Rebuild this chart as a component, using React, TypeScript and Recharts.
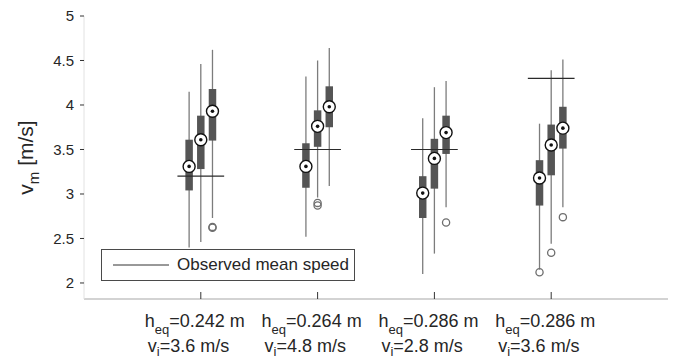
import React from "react";
import { ComposedChart, XAxis, YAxis, Scatter, ReferenceLine, Legend } from "recharts";

// categories (x = 1..4)
const groupPositions = [1, 2, 3, 4];
const heqValues = ["0.242", "0.264", "0.286", "0.286"];
const viValues = ["3.6", "4.8", "2.8", "3.6"];
const observedMean = [3.2, 3.5, 3.5, 4.3];

// three boxes per group
const whiskerLow = [
  [2.4, 2.46, 2.73],
  [2.52, 2.96, 3.09],
  [2.1, 2.33, 2.85],
  [2.15, 2.44, 2.85],
];
const quartile1 = [
  [3.04, 3.28, 3.6],
  [3.07, 3.53, 3.75],
  [2.73, 3.06, 3.45],
  [2.87, 3.21, 3.51],
];
const medians = [
  [3.31, 3.61, 3.93],
  [3.31, 3.76, 3.98],
  [3.01, 3.4, 3.69],
  [3.18, 3.55, 3.74],
];
const quartile3 = [
  [3.61, 3.88, 4.18],
  [3.57, 3.94, 4.21],
  [3.2, 3.62, 3.88],
  [3.38, 3.78, 3.98],
];
const whiskerHigh = [
  [4.15, 4.46, 4.62],
  [4.32, 4.5, 4.64],
  [3.85, 4.2, 4.27],
  [3.79, 4.39, 4.51],
];
const outliers = [
  [[], [], [2.62, 2.63]],
  [[], [2.9, 2.87], []],
  [[], [], [2.68]],
  [[2.12], [2.34], [2.74]],
];

const yTicks = [2, 2.5, 3, 3.5, 4, 4.5, 5];

const boxOffset = [-0.1, 0, 0.1];
const meanHalf = 0.2;
const FONT = '"Liberation Sans", Arial, Helvetica, sans-serif';

const boxes = groupPositions.flatMap((g, gi) =>
  boxOffset.map((o, bi) => ({
    x: g + o,
    lo: whiskerLow[gi][bi],
    q1: quartile1[gi][bi],
    med: medians[gi][bi],
    q3: quartile3[gi][bi],
    hi: whiskerHigh[gi][bi],
  }))
);
const medianPoints = boxes.map((b) => ({ x: b.x, y: b.med }));
const outlierPoints = groupPositions.flatMap((g, gi) =>
  boxOffset.flatMap((o, bi) => outliers[gi][bi].map((v) => ({ x: g + o, y: v })))
);

const MedianMark = (props: any) => {
  const { cx, cy } = props;
  return (
    <g>
      <circle cx={cx} cy={cy} r={6} fill="#fff" stroke="#111" strokeWidth={1.4} />
      <circle cx={cx} cy={cy} r={1.8} fill="#111" />
    </g>
  );
};

const OutlierMark = (props: any) => {
  const { cx, cy } = props;
  return <circle cx={cx} cy={cy} r={3.6} fill="none" stroke="#6e6e6e" strokeWidth={1.3} />;
};

const XTick = (props: any) => {
  const { x, y, payload } = props;
  const i = groupPositions.indexOf(payload.value);
  if (i < 0) return null;
  return (
    <g>
      <line x1={x} x2={x} y1={y - 7} y2={y} stroke="#333" strokeWidth={1} />
      <text x={x - 56} y={y + 28} fontSize={18} fill="#262626" fontFamily={FONT}>
        h<tspan dy={7} fontSize={13}>eq</tspan>
        <tspan dy={-7}>={heqValues[i]} m</tspan>
      </text>
      <text x={x - 53} y={y + 53} fontSize={18} fill="#262626" fontFamily={FONT}>
        v<tspan dy={4} fontSize={13}>i</tspan>
        <tspan dy={-4}>={viValues[i]} m/s</tspan>
      </text>
    </g>
  );
};

const YLabel = (props: any) => {
  const vb = props.viewBox || { x: 0, y: 16, width: 84, height: 283 };
  const cx = vb.x + 33;
  const cy = vb.y + vb.height / 2;
  return (
    <text
      x={cx}
      y={cy}
      transform={`rotate(-90, ${cx}, ${cy})`}
      textAnchor="middle"
      fontSize={21}
      fill="#262626"
      fontFamily={FONT}
    >
      v<tspan dy={6} fontSize={15}>m</tspan>
      <tspan dy={-6}> [m/s]</tspan>
    </text>
  );
};

const LegendBox = () => (
  <div
    style={{
      width: 254,
      height: 32,
      boxSizing: "border-box",
      border: "1px solid #4a4a4a",
      background: "#fff",
      display: "flex",
      alignItems: "center",
      fontFamily: FONT,
      fontSize: 17,
      color: "#262626",
    }}
  >
    <svg width={75} height={30} style={{ flex: "none" }}>
      <line x1={11} x2={67} y1={15} y2={15} stroke="#333" strokeWidth={1} />
    </svg>
    <span>Observed mean speed</span>
  </div>
);

export default function App() {
  return (
    <div style={{ position: "absolute", left: 0, top: 0, background: "#fff" }}>
      <ComposedChart width={674} height={358} margin={{ top: 16, right: 6, bottom: 0, left: 0 }}>
        <XAxis
          type="number"
          dataKey="x"
          domain={[0, 5]}
          allowDataOverflow
          ticks={groupPositions}
          interval={0}
          height={59}
          tickLine={false}
          tickSize={0}
          tickMargin={0}
          axisLine={{ stroke: "#c4c4c4", strokeWidth: 1.5 }}
          tick={<XTick />}
        />
        <YAxis
          type="number"
          dataKey="y"
          domain={[1.82, 5]}
          allowDataOverflow
          ticks={yTicks}
          interval={0}
          width={84}
          tickSize={4}
          tickMargin={6}
          tickLine={{ stroke: "#333" }}
          axisLine={{ stroke: "#e2e2e2" }}
          tick={{ fontSize: 15, fill: "#262626", fontFamily: FONT }}
          label={(p: any) => <YLabel {...p} />}
        />
        {boxes.map((b, i) => (
          <ReferenceLine
            key={`w${i}`}
            segment={[{ x: b.x, y: b.lo }, { x: b.x, y: b.hi }]}
            stroke="#7c7c7c"
            strokeWidth={1.3}
            ifOverflow="visible"
          />
        ))}
        {boxes.map((b, i) => (
          <ReferenceLine
            key={`b${i}`}
            segment={[{ x: b.x, y: b.q1 }, { x: b.x, y: b.q3 }]}
            stroke="#555555"
            strokeWidth={7.5}
            ifOverflow="visible"
          />
        ))}
        {groupPositions.map((g, i) => (
          <ReferenceLine
            key={`m${i}`}
            segment={[{ x: g - meanHalf, y: observedMean[i] }, { x: g + meanHalf, y: observedMean[i] }]}
            stroke="#2a2a2a"
            strokeWidth={1.2}
            ifOverflow="visible"
          />
        ))}
        <Scatter data={outlierPoints} dataKey="y" shape={<OutlierMark />} isAnimationActive={false} legendType="none" />
        <Scatter data={medianPoints} dataKey="y" shape={<MedianMark />} isAnimationActive={false} legendType="none" />
        <Legend
          layout="horizontal"
          verticalAlign="middle"
          align="center"
          wrapperStyle={{ left: 101, top: 249, width: 254, height: 32 }}
          content={() => <LegendBox />}
        />
      </ComposedChart>
    </div>
  );
}
